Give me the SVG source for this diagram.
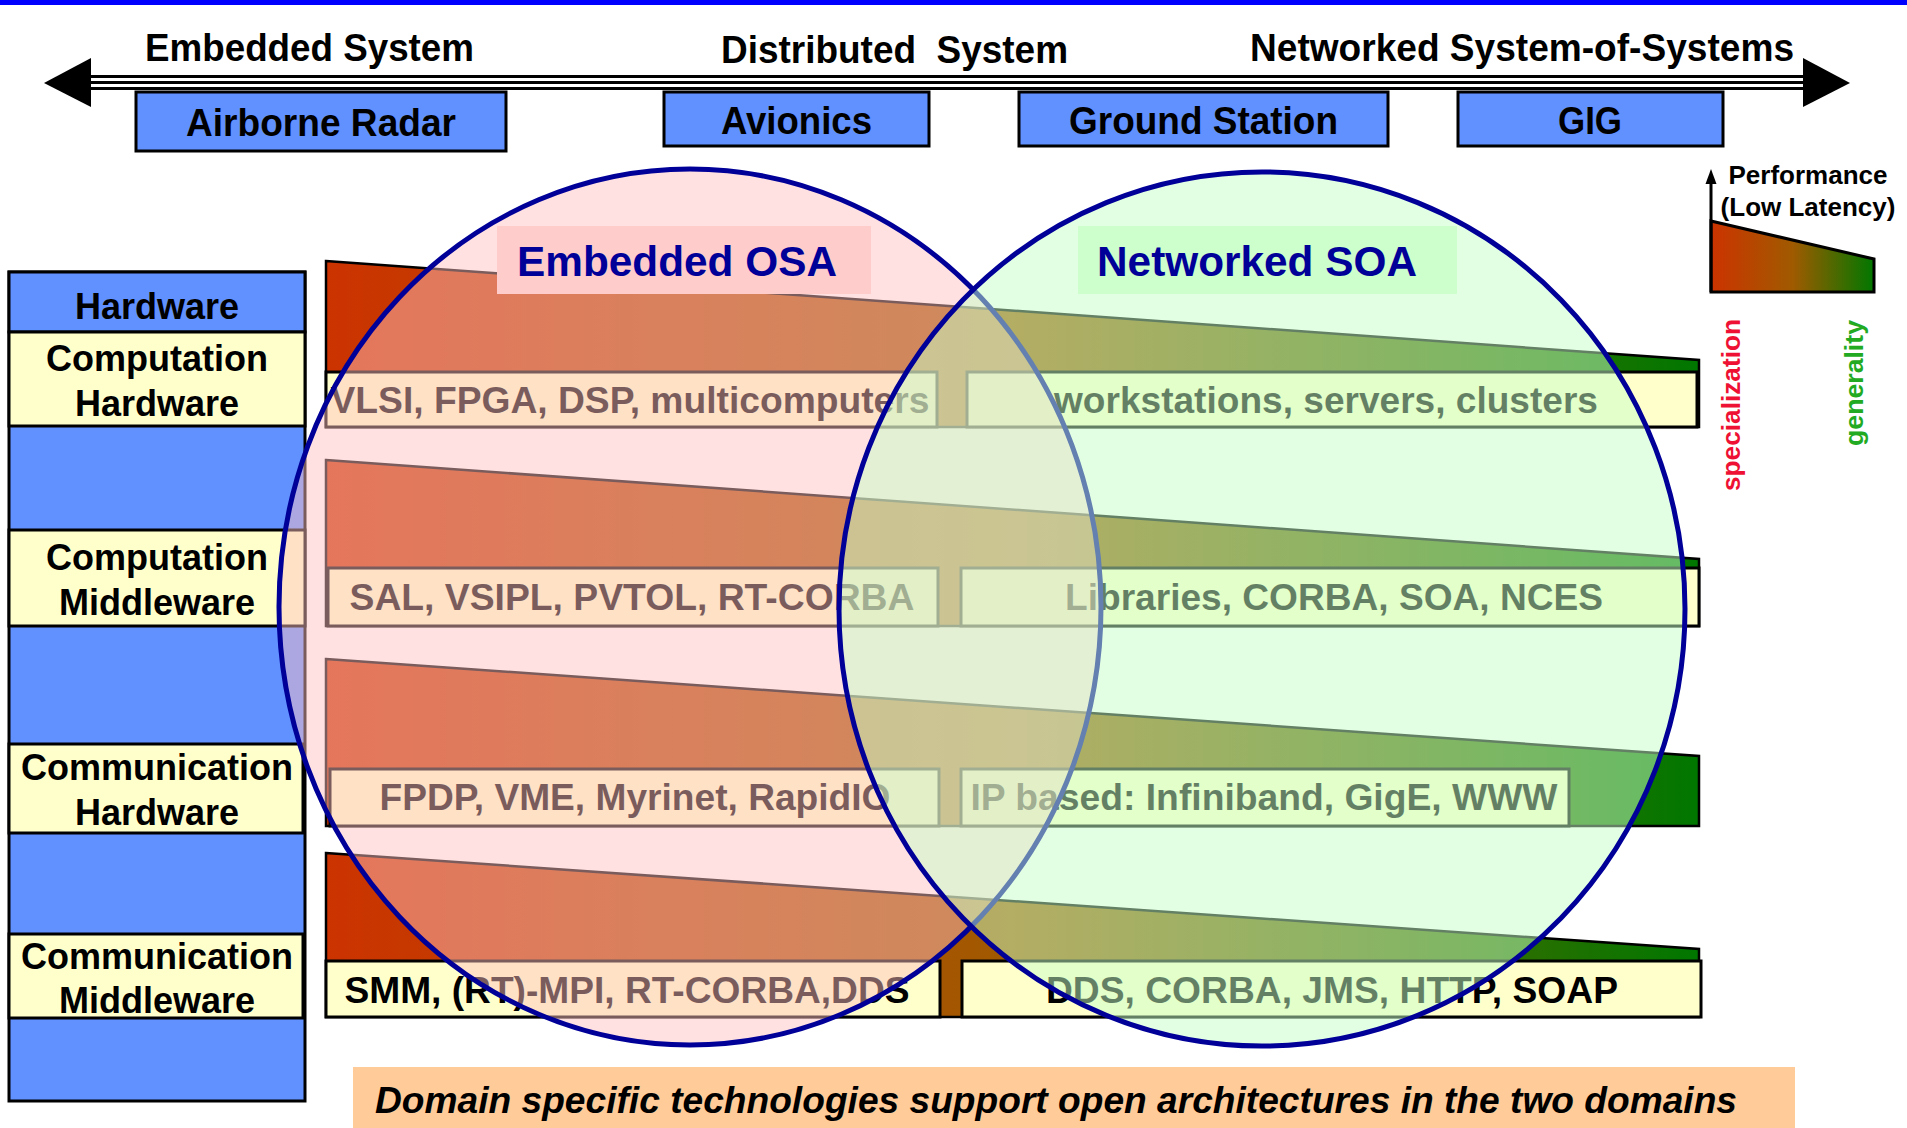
<svg xmlns="http://www.w3.org/2000/svg" width="1907" height="1128" viewBox="0 0 1907 1128">
<style>
  text { font-family: "Liberation Sans", Arial, sans-serif; font-weight: bold; fill: #000; }
  .top { font-size: 38px; }
  .box { fill: #6190FF; stroke: #000; stroke-width: 3; }
  .col { font-size: 36px; text-anchor: middle; }
  .yel { fill: #FFFFCC; stroke: #000; stroke-width: 3; }
  .blu { fill: #6190FF; stroke: #000; stroke-width: 3; }
  .trap { fill: url(#grad); stroke: #000; stroke-width: 2.5; }
  .lt { font-size: 36px; text-anchor: middle; }
  .ttl { font-size: 42px; fill: #000099; text-anchor: middle; }
</style>
<defs>
  <linearGradient id="grad" gradientUnits="userSpaceOnUse" x1="326" y1="0" x2="1699" y2="0">
    <stop offset="0" stop-color="#CC3300"/>
    <stop offset="0.5" stop-color="#A05A00"/>
    <stop offset="1" stop-color="#007700"/>
  </linearGradient>
  <linearGradient id="lgrad" gradientUnits="userSpaceOnUse" x1="1711" y1="0" x2="1874" y2="0">
    <stop offset="0" stop-color="#CC3300"/>
    <stop offset="0.5" stop-color="#A05A00"/>
    <stop offset="1" stop-color="#007700"/>
  </linearGradient>
</defs>

<rect x="0" y="0" width="1907" height="5" fill="#0000FF"/>

<g id="connectors">
  <rect x="88" y="75" width="1718" height="15" fill="#000"/>
  <rect x="88" y="78" width="1718" height="3" fill="#fff"/>
  <rect x="88" y="84" width="1718" height="3" fill="#fff"/>
  <polygon points="44,83 91,58 91,107" fill="#000"/>
  <polygon points="1850,83 1803,58 1803,107" fill="#000"/>
</g>

<g id="scale-labels">
  <text class="top" x="145" y="61" textLength="329" lengthAdjust="spacingAndGlyphs">Embedded System</text>
  <text class="top" x="721" y="63" textLength="347" lengthAdjust="spacingAndGlyphs">Distributed&#160; System</text>
  <text class="top" x="1250" y="61" textLength="544" lengthAdjust="spacingAndGlyphs">Networked System-of-Systems</text>
</g>

<g id="airborne-radar">
  <rect class="box" x="136" y="92" width="370" height="59"/>
  <text class="top" x="186" y="136" textLength="270" lengthAdjust="spacingAndGlyphs">Airborne Radar</text>
</g>
<g id="avionics">
  <rect class="box" x="664" y="92" width="265" height="54"/>
  <text class="top" x="721" y="134" textLength="151" lengthAdjust="spacingAndGlyphs">Avionics</text>
</g>
<g id="ground-station">
  <rect class="box" x="1019" y="92" width="369" height="54"/>
  <text class="top" x="1069" y="134" textLength="269" lengthAdjust="spacingAndGlyphs">Ground Station</text>
</g>
<g id="gig">
  <rect class="box" x="1458" y="92" width="265" height="54"/>
  <text class="top" x="1558" y="134" textLength="64" lengthAdjust="spacingAndGlyphs">GIG</text>
</g>

<g id="layer-column">
  <rect class="blu" x="9" y="272" width="296" height="829"/>
  <rect class="blu" x="9" y="272" width="296" height="60"/>
  <text class="col" x="157" y="319">Hardware</text>
  <rect class="yel" x="9" y="332" width="296" height="94"/>
  <text class="col" x="157" y="371">Computation</text>
  <text class="col" x="157" y="416">Hardware</text>
  <rect class="yel" x="9" y="530" width="296" height="96"/>
  <text class="col" x="157" y="570">Computation</text>
  <text class="col" x="157" y="615">Middleware</text>
  <rect class="yel" x="9" y="744" width="294" height="89"/>
  <text class="col" x="157" y="780">Communication</text>
  <text class="col" x="157" y="825">Hardware</text>
  <rect class="yel" x="9" y="934" width="294" height="84"/>
  <text class="col" x="157" y="969">Communication</text>
  <text class="col" x="157" y="1013">Middleware</text>
</g>

<g id="computation-hardware-layer">
  <polygon class="trap" points="326,261 1699,360 1699,427 326,427"/>
  <rect class="yel" x="326" y="372" width="611" height="55"/>
  <rect class="yel" x="967" y="372" width="730" height="55"/>
  <text class="lt" x="630" y="413" textLength="599" lengthAdjust="spacingAndGlyphs">VLSI, FPGA, DSP, multicomputers</text>
  <text class="lt" x="1326" y="413" textLength="544" lengthAdjust="spacingAndGlyphs">workstations, servers, clusters</text>
</g>

<g id="computation-middleware-layer">
  <polygon class="trap" points="326,460 1699,559 1699,626 326,626"/>
  <rect class="yel" x="328" y="568" width="610" height="58"/>
  <rect class="yel" x="961" y="568" width="738" height="58"/>
  <text class="lt" x="632" y="610" textLength="565" lengthAdjust="spacingAndGlyphs">SAL, VSIPL, PVTOL, RT-CORBA</text>
  <text class="lt" x="1334" y="610" textLength="538" lengthAdjust="spacingAndGlyphs">Libraries, CORBA, SOA, NCES</text>
</g>

<g id="communication-hardware-layer">
  <polygon class="trap" points="326,659 1699,756 1699,826 326,826"/>
  <rect class="yel" x="330" y="769" width="609" height="57"/>
  <rect class="yel" x="961" y="769" width="608" height="57"/>
  <text class="lt" x="635" y="810" textLength="511" lengthAdjust="spacingAndGlyphs">FPDP, VME, Myrinet, RapidIO</text>
  <text class="lt" x="1264" y="810" textLength="587" lengthAdjust="spacingAndGlyphs">IP based: Infiniband, GigE, WWW</text>
</g>

<g id="communication-middleware-layer">
  <polygon class="trap" points="326,853 1699,949 1699,1017 326,1017"/>
  <rect class="yel" x="326" y="961" width="614" height="56"/>
  <rect class="yel" x="962" y="961" width="739" height="56"/>
  <text class="lt" x="627" y="1003" textLength="565" lengthAdjust="spacingAndGlyphs">SMM, (RT)-MPI, RT-CORBA,DDS</text>
  <text class="lt" x="1332" y="1003" textLength="572" lengthAdjust="spacingAndGlyphs">DDS, CORBA, JMS, HTTP, SOAP</text>
</g>

<g id="embedded-osa">
  <ellipse cx="690" cy="607" rx="411" ry="438" fill="#FFC0C0" fill-opacity="0.48" stroke="#000099" stroke-width="5"/>
</g>
<g id="networked-soa">
  <ellipse cx="1262" cy="609" rx="423" ry="437" fill="#C8FFC8" fill-opacity="0.5" stroke="#000099" stroke-width="5"/>
</g>
<g id="embedded-osa-label">
  <rect x="497" y="226" width="374" height="68" fill="#FFCCCC"/>
  <text class="ttl" x="677" y="276" textLength="320" lengthAdjust="spacingAndGlyphs">Embedded OSA</text>
</g>
<g id="networked-soa-label">
  <rect x="1078" y="226" width="379" height="68" fill="#CCFFCC"/>
  <text class="ttl" x="1257" y="276" textLength="320" lengthAdjust="spacingAndGlyphs">Networked SOA</text>
</g>

<g id="performance-legend">
  <polygon points="1711,221 1874,259 1874,292 1711,292" fill="url(#lgrad)" stroke="#000" stroke-width="3"/>
  <line x1="1711" y1="292" x2="1711" y2="182" stroke="#000" stroke-width="3"/>
  <polygon points="1711,169 1705.5,184 1716.5,184" fill="#000"/>
  <text x="1808" y="184" font-size="26" text-anchor="middle">Performance</text>
  <text x="1808" y="216" font-size="26" text-anchor="middle">(Low Latency)</text>
  <text transform="translate(1740,491) rotate(-90)" font-size="26" style="fill:#EE1133" textLength="172" lengthAdjust="spacingAndGlyphs">specialization</text>
  <text transform="translate(1863,446) rotate(-90)" font-size="26" style="fill:#22AA22" textLength="126" lengthAdjust="spacingAndGlyphs">generality</text>
</g>

<g id="caption">
  <rect x="353" y="1067" width="1442" height="61" fill="#FFCC99"/>
  <text x="375" y="1113" font-size="36" font-style="italic" textLength="1362" lengthAdjust="spacingAndGlyphs">Domain specific technologies support open architectures in the two domains</text>
</g>
</svg>
